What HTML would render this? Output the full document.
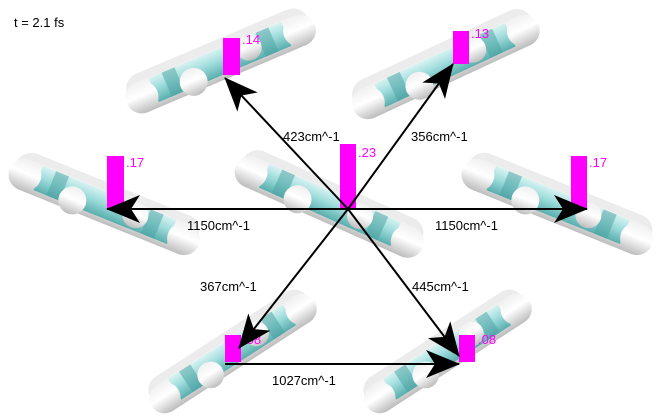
<!DOCTYPE html>
<html><head><meta charset="utf-8"><style>
html,body{margin:0;padding:0;background:#fff;width:666px;height:418px;overflow:hidden}
svg{display:block;font-family:"Liberation Sans",sans-serif}
</style></head><body>
<svg width="666" height="418" viewBox="0 0 666 418">
<defs>
<marker id="ah" viewBox="0 0 34 28" refX="33" refY="14" markerWidth="34" markerHeight="28" markerUnits="userSpaceOnUse" orient="auto">
<path d="M0,0 L34,14 L0,28 L9,14 Z" fill="#000"/>
</marker>
<linearGradient id="cap" x1="0" y1="0" x2="0" y2="1">
<stop offset="0" stop-color="#f0f0f0"/><stop offset="0.45" stop-color="#ffffff"/><stop offset="1" stop-color="#bdbdbd"/>
</linearGradient>
<linearGradient id="cy" x1="0" y1="0" x2="0" y2="1">
<stop offset="0" stop-color="#d8f2f2"/><stop offset="0.45" stop-color="#9edcdc"/><stop offset="1" stop-color="#5aaeae"/>
</linearGradient>
<g id="mol">
<rect x="-98" y="-22" width="196" height="32" rx="16" fill="#ececec"/>
<rect x="-102" y="-14" width="204" height="32" rx="16" fill="url(#cap)"/>
<rect x="-72" y="-13" width="144" height="26" fill="url(#cy)"/>
<rect x="-58" y="-13" width="14" height="26" fill="#4aa0a0" opacity="0.5"/>
<rect x="44" y="-13" width="14" height="26" fill="#4aa0a0" opacity="0.5"/>
<circle cx="-85" cy="2" r="16" fill="url(#cap)"/>
<circle cx="85" cy="2" r="16" fill="url(#cap)"/>
<circle cx="-32" cy="8" r="14" fill="url(#cap)"/>
<circle cx="32" cy="-2" r="13" fill="url(#cap)"/>
</g>
</defs>
<text x="14" y="27" font-size="13" fill="#000">t = 2.1 fs</text>
<use href="#mol" transform="translate(220,62) rotate(-23)"/>
<use href="#mol" transform="translate(445,65) rotate(-25)"/>
<use href="#mol" transform="translate(105,205) rotate(22)"/>
<use href="#mol" transform="translate(330,205) rotate(24)"/>
<use href="#mol" transform="translate(558,205) rotate(22)"/>
<use href="#mol" transform="translate(232,352) rotate(-33) scale(0.95)"/>
<use href="#mol" transform="translate(447,352) rotate(-33) scale(0.95)"/>
<g fill="#ff00ff">
<rect x="223" y="38" width="17" height="37"/>
<rect x="453" y="31" width="16" height="33"/>
<rect x="340" y="144" width="16" height="65"/>
<rect x="107" y="156" width="17" height="53"/>
<rect x="571" y="156" width="16" height="53"/>
<rect x="225" y="335" width="16" height="27"/>
<rect x="459" y="335" width="16" height="27"/>
</g>
<g font-size="13" fill="#ff00ff">
<text x="242" y="44">.14</text>
<text x="471" y="38">.13</text>
<text x="358" y="157">.23</text>
<text x="126" y="167">.17</text>
<text x="589" y="167">.17</text>
<text x="243" y="344">.08</text>
<text x="478" y="344">.08</text>
</g>
<g stroke="#000" stroke-width="2" marker-end="url(#ah)">
<line x1="348" y1="209" x2="225" y2="78"/>
<line x1="348" y1="209" x2="453" y2="64"/>
<line x1="348" y1="209" x2="107" y2="209"/>
<line x1="348" y1="209" x2="587" y2="209"/>
<line x1="348" y1="209" x2="239" y2="348"/>
<line x1="348" y1="209" x2="459" y2="356"/>
<line x1="225" y1="364" x2="459" y2="364"/>
</g>
<g font-size="13" fill="#000">
<text x="283" y="141">423cm^-1</text>
<text x="411" y="141">356cm^-1</text>
<text x="187" y="230">1150cm^-1</text>
<text x="435" y="230">1150cm^-1</text>
<text x="200" y="291">367cm^-1</text>
<text x="412" y="291">445cm^-1</text>
<text x="272" y="385">1027cm^-1</text>
</g>
</svg>
</body></html>
